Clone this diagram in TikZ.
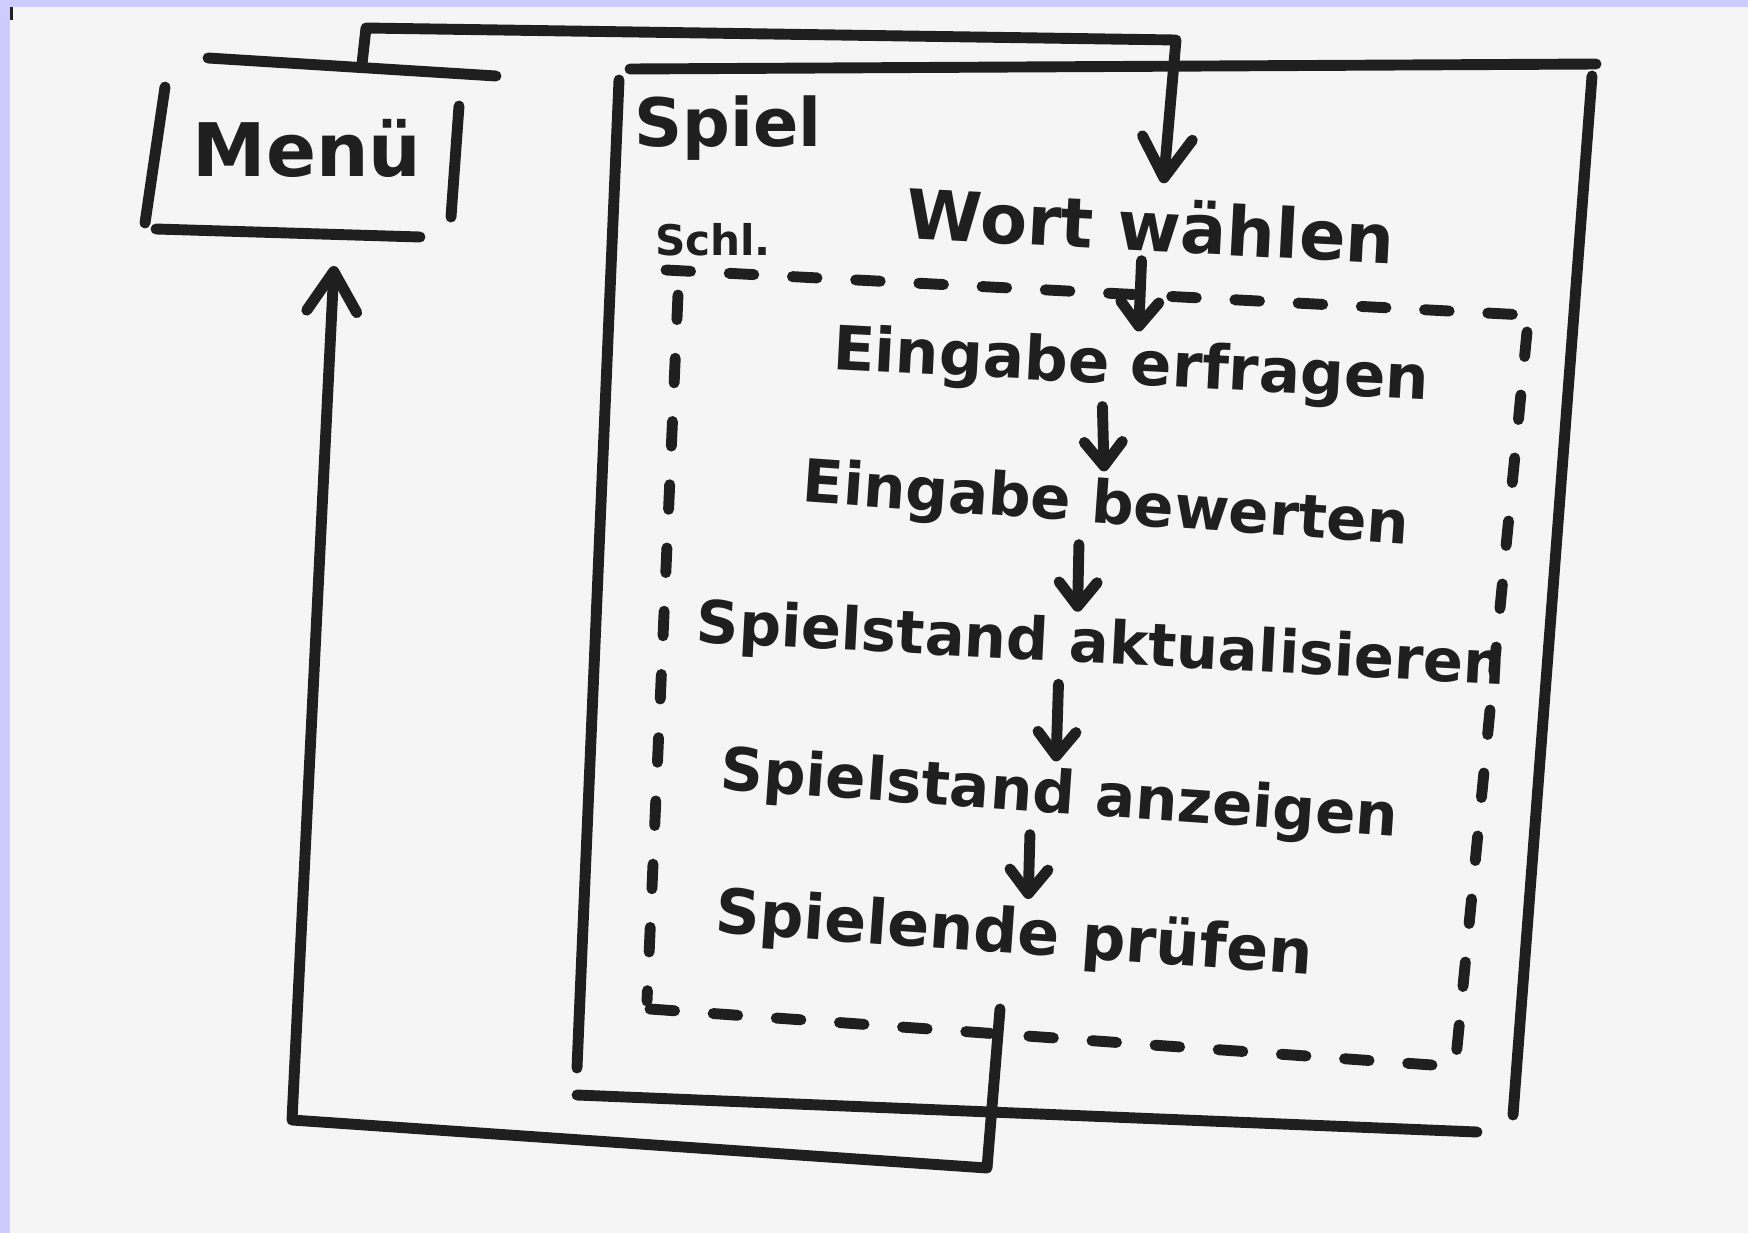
\documentclass[tikz,border=0pt]{standalone}
\usepackage{fontspec}
\setmainfont{DejaVu Sans}
\usetikzlibrary{arrows.meta, calc}
\definecolor{ink}{HTML}{1F1F1F}
\definecolor{paper}{HTML}{F5F5F5}
\definecolor{edge}{HTML}{CCCCFF}

\begin{document}
\begin{tikzpicture}[
    x=0.01cm, y=-0.01cm,
    line cap=round, line join=round,
    marker/.style={draw=ink, line width=3.1pt},
    dashline/.style={marker, dash pattern=on 7pt off 11pt},
    hand/.style={inner sep=0pt, text=ink, font=\fontsize{#1}{#1}\selectfont\bfseries},
    steptext/.style={hand=#1, rotate=-3},
    stepto/.style={marker, -{Straight Barb[length=2.4mm, width=3.8mm, round]}},
    bigto/.style={marker, -{Straight Barb[length=4mm, width=5mm, round]}}
  ]
    \useasboundingbox (0,0) rectangle (1748,1233);
    % scanned sheet
    \fill[edge] (0,0) rectangle (1748,1233);
    \fill[paper] (10,7) rectangle (1748,1233);
    \fill[ink] (10,7) rectangle (13,20);

    % labels
    \node[hand=21] (menu) at (307,148) {Menü};
    \node[hand=19] (spiel) at (728,128) {Spiel};
    \node[hand=12] (schl) at (713,240) {Schl.};

    % steps of the game loop
    \node[steptext=19.5] (wort) at (1151,225) {Wort wählen};
    \node[steptext=17.4] (erfragen) at (1131,368) {Eingabe erfragen};
    \node[steptext=16.9, rotate=-1] (bewerten) at (1106,507) {Eingabe bewerten};
    \node[steptext=16.8] (aktual) at (1101,647) {Spielstand aktualisieren};
    \node[steptext=16.9, rotate=-1] (anzeigen) at (1059,797) {Spielstand anzeigen};
    \node[steptext=17.6, rotate=-1] (pruefen) at (1014,936) {Spielende prüfen};

    % Menü box
    \draw[marker] (208,58) -- (496,76);
    \draw[marker] (165,87) -- (145,223);
    \draw[marker] (459,106) -- (451,217);
    \draw[marker] (156,229) -- (420,237);
    \coordinate (menutop) at (362,64);
    \coordinate (menubot) at (334,266);

    % Spiel box
    \draw[marker] (630,69) -- (1596,64);
    \draw[marker] (619,80) -- (577,1068);
    \draw[marker] (1592,76) -- (1513,1115);
    \draw[marker] (577,1095) -- (1477,1132);

    % Schleife (dashed)
    \draw[dashline] (666,270) -- (1525,315);
    \draw[dashline] (678,295) -- (647,1001);
    \draw[dashline] (1527,332) -- (1455,1068);
    \draw[dashline] (650,1009) -- (1432,1065);
    \coordinate (loopout) at (1000,1009);

    % connectors
    \draw[bigto] (menutop) -- (366,28) -- (1176,40) -- ($(wort.north)+(11,-14)$);
    \draw[stepto] ($(wort.south)+(-8,8)$) -- ($(erfragen.north)+(6,-6)$);
    \draw[stepto] ($(erfragen.south)+(-27,8)$) -- ($(bewerten.north)+(-4,-6)$);
    \draw[stepto] ($(bewerten.south)+(-25,8)$) -- ($(aktual.north)+(-25,-6)$);
    \draw[stepto] ($(aktual.south)+(-41,8)$) -- ($(anzeigen.north)+(-5,-6)$);
    \draw[stepto] ($(anzeigen.south)+(-27,8)$) -- ($(pruefen.north)+(12,-6)$);
    \draw[bigto] (loopout) -- (987,1168) -- (292,1120) -- (menubot);
\end{tikzpicture}
\end{document}
